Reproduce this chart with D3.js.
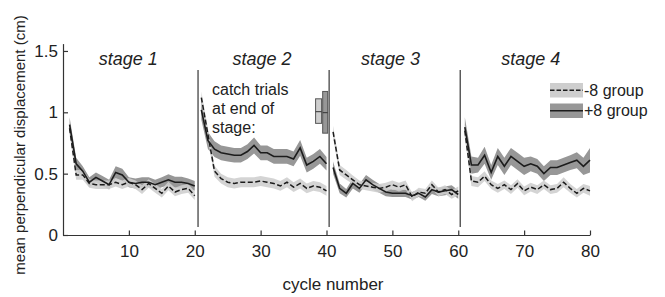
<!DOCTYPE html>
<html>
<head>
<meta charset="utf-8">
<script src="https://cdn.jsdelivr.net/npm/d3@7/dist/d3.min.js"></script>
<style>
  body { margin: 0; background: #fff; }
  svg { display: block; }
  text { font-family: "Liberation Sans", Arial, Helvetica, sans-serif; fill: #222; }
</style>
</head>
<body>
<div id="chart"></div>
<script>
// data: cycles 1..80, four stages of 20 cycles
const cycles = d3.range(1, 81);
const stageNames = ['stage 1', 'stage 2', 'stage 3', 'stage 4'];
const stageBreaks = [20.5, 40.4, 60.3];

// +8 group (solid line, dark band)
const plusMean = [
  0.90, 0.58, 0.52, 0.43, 0.47, 0.44, 0.41, 0.51, 0.49, 0.43, 0.42, 0.43, 0.43, 0.41, 0.43, 0.45, 0.43, 0.43, 0.42, 0.40,
  1.02, 0.77, 0.70, 0.67, 0.66, 0.65, 0.65, 0.68, 0.73, 0.67, 0.67, 0.64, 0.64, 0.64, 0.62, 0.71, 0.57, 0.60, 0.64, 0.58,
  0.55, 0.38, 0.34, 0.42, 0.38, 0.45, 0.41, 0.38, 0.35, 0.34, 0.34, 0.34, 0.32, 0.34, 0.31, 0.37, 0.35, 0.36, 0.37, 0.33,
  0.88, 0.57, 0.57, 0.65, 0.51, 0.64, 0.56, 0.64, 0.60, 0.56, 0.58, 0.56, 0.50, 0.55, 0.55, 0.57, 0.59, 0.61, 0.56, 0.61
];
const plusSem = [
  0.06, 0.05, 0.04, 0.04, 0.04, 0.04, 0.04, 0.05, 0.05, 0.04, 0.04, 0.04, 0.04, 0.04, 0.04, 0.045, 0.045, 0.045, 0.04, 0.04,
  0.08, 0.07, 0.065, 0.06, 0.06, 0.06, 0.06, 0.06, 0.065, 0.06, 0.06, 0.06, 0.06, 0.06, 0.06, 0.065, 0.06, 0.06, 0.06, 0.055,
  0.05, 0.04, 0.035, 0.04, 0.035, 0.04, 0.04, 0.035, 0.035, 0.03, 0.03, 0.03, 0.03, 0.03, 0.03, 0.035, 0.035, 0.035, 0.035, 0.035,
  0.08, 0.07, 0.06, 0.07, 0.06, 0.07, 0.07, 0.07, 0.07, 0.07, 0.06, 0.06, 0.06, 0.06, 0.06, 0.06, 0.06, 0.065, 0.07, 0.10
];

// -8 group (dashed line, light band)
const minusMean = [
  0.87, 0.49, 0.49, 0.42, 0.41, 0.41, 0.41, 0.43, 0.41, 0.43, 0.41, 0.37, 0.42, 0.38, 0.34, 0.40, 0.35, 0.37, 0.38, 0.32,
  1.12, 0.82, 0.52, 0.46, 0.43, 0.42, 0.43, 0.43, 0.43, 0.44, 0.43, 0.42, 0.40, 0.43, 0.39, 0.42, 0.38, 0.40, 0.39, 0.36,
  0.84, 0.53, 0.49, 0.45, 0.41, 0.40, 0.39, 0.38, 0.39, 0.41, 0.39, 0.41, 0.31, 0.35, 0.34, 0.41, 0.35, 0.37, 0.33, 0.36,
  0.85, 0.44, 0.43, 0.48, 0.41, 0.38, 0.41, 0.37, 0.42, 0.36, 0.39, 0.37, 0.41, 0.37, 0.38, 0.43, 0.38, 0.34, 0.38, 0.36
];
const minusSem = [
  0.05, 0.04, 0.04, 0.035, 0.035, 0.035, 0.035, 0.035, 0.035, 0.035, 0.035, 0.035, 0.035, 0.035, 0.035, 0.035, 0.035, 0.035, 0.035, 0.035,
  0.05, 0.05, 0.045, 0.04, 0.04, 0.04, 0.04, 0.04, 0.04, 0.04, 0.04, 0.04, 0.04, 0.04, 0.04, 0.04, 0.04, 0.04, 0.04, 0.04,
  0.05, 0.04, 0.04, 0.035, 0.035, 0.035, 0.035, 0.035, 0.035, 0.035, 0.035, 0.035, 0.035, 0.035, 0.035, 0.035, 0.035, 0.035, 0.035, 0.035,
  0.06, 0.04, 0.04, 0.04, 0.035, 0.035, 0.035, 0.035, 0.035, 0.035, 0.035, 0.035, 0.035, 0.035, 0.035, 0.04, 0.035, 0.035, 0.035, 0.04
];

// catch trial boxes at end of stage 2: [mean, low, high]
const catchMinus = [1.005, 0.91, 1.11];
const catchPlus = [0.997, 0.83, 1.17];

const xTicks = [10, 20, 30, 40, 50, 60, 70, 80];
const yTicks = [0, 0.5, 1, 1.5];

const width = 665;
const height = 297;
const colors = { dark: '#979797', light: '#cecece', ink: '#1c1c1c', axis: '#333' };

const x = d3.scaleLinear().domain([0, 80]).range([63, 590]);
const y = d3.scaleLinear().domain([0, 1.56]).range([235, 43.6]);

const svg = d3.select('#chart')
  .append('svg')
  .attr('width', width)
  .attr('height', height);

const rows = (mean, sem) => cycles.map((c, i) => ({ c, m: mean[i], e: sem[i], stage: Math.floor(i / 20) }));
const plusRows = rows(plusMean, plusSem);
const minusRows = rows(minusMean, minusSem);

const area = d3.area()
  .x(d => x(d.c))
  .y0(d => y(d.m - d.e))
  .y1(d => y(d.m + d.e));
const line = d3.line()
  .x(d => x(d.c))
  .y(d => y(d.m));

const byStage = data => d3.groups(data, d => d.stage).map(g => g[1]);

// bands
svg.append('g').selectAll('path')
  .data(byStage(plusRows))
  .join('path')
  .attr('d', area)
  .attr('fill', colors.dark);
svg.append('g').selectAll('path')
  .data(byStage(minusRows))
  .join('path')
  .attr('d', area)
  .attr('fill', colors.light)
  .attr('opacity', 0.88);

// mean lines
svg.append('g').selectAll('path')
  .data(byStage(minusRows))
  .join('path')
  .attr('d', line)
  .attr('fill', 'none')
  .attr('stroke', colors.ink)
  .attr('stroke-width', 1.5)
  .attr('stroke-dasharray', '5,2.5');
svg.append('g').selectAll('path')
  .data(byStage(plusRows))
  .join('path')
  .attr('d', line)
  .attr('fill', 'none')
  .attr('stroke', colors.ink)
  .attr('stroke-width', 1.6);

// stage separators
svg.append('g').selectAll('line')
  .data(stageBreaks)
  .join('line')
  .attr('x1', d => x(d))
  .attr('x2', d => x(d))
  .attr('y1', y(1.345))
  .attr('y2', y(0.065))
  .attr('stroke', '#444')
  .attr('stroke-width', 1.3);

// axes
const xAxis = svg.append('g')
  .attr('transform', `translate(0,${y(0)})`)
  .call(d3.axisBottom(x).tickValues(xTicks).tickSizeInner(-4.5).tickSizeOuter(0).tickPadding(10));
const yAxis = svg.append('g')
  .attr('transform', `translate(${x(0)},0)`)
  .call(d3.axisLeft(y).tickValues(yTicks).tickSizeInner(-5).tickSizeOuter(0).tickPadding(5)
    .tickFormat(d => String(d)));

[xAxis, yAxis].forEach(axis => {
  axis.attr('font-size', null).attr('font-family', null);
  axis.selectAll('path, line').attr('stroke', colors.axis).attr('stroke-width', 1.2);
  axis.selectAll('text').style('font-size', '17px').attr('fill', '#222');
});

svg.append('text')
  .attr('x', 333)
  .attr('y', 290)
  .attr('text-anchor', 'middle')
  .style('font-size', '17px')
  .text('cycle number');

svg.append('text')
  .attr('transform', 'translate(25,145) rotate(-90)')
  .attr('text-anchor', 'middle')
  .style('font-size', '15px')
  .text('mean perpendicular displacement (cm)');

// stage titles
const titleX = [9.9, 30.2, 49.7, 71];
svg.append('g').selectAll('text')
  .data(stageNames)
  .join('text')
  .attr('x', (d, i) => x(titleX[i]))
  .attr('y', 65)
  .attr('text-anchor', 'middle')
  .style('font-size', '18px')
  .style('font-style', 'italic')
  .text(d => d);

// catch trials note
const note = svg.append('text')
  .attr('x', 212)
  .attr('y', 95)
  .style('font-size', '16px');
['catch trials', 'at end of', 'stage:'].forEach((t, i) => {
  note.append('tspan').attr('x', 212).attr('dy', i ? 19 : 0).text(t);
});

const boxes = [
  { v: catchMinus, c: 38.8, w: 6, fill: colors.light },
  { v: catchPlus, c: 39.8, w: 5, fill: colors.dark }
];
const boxG = svg.append('g').selectAll('g').data(boxes).join('g');
boxG.append('rect')
  .attr('x', d => x(d.c) - d.w / 2)
  .attr('width', d => d.w)
  .attr('y', d => y(d.v[2]))
  .attr('height', d => y(d.v[1]) - y(d.v[2]))
  .attr('fill', d => d.fill)
  .attr('stroke', '#555')
  .attr('stroke-width', 1);
boxG.append('line')
  .attr('x1', d => x(d.c) - d.w / 2)
  .attr('x2', d => x(d.c) + d.w / 2)
  .attr('y1', d => y(d.v[0]))
  .attr('y2', d => y(d.v[0]))
  .attr('stroke', '#333')
  .attr('stroke-width', 1);

// legend
const legend = svg.append('g').attr('transform', 'translate(550,83)');
const legendItems = [
  { label: '-8 group', fill: colors.light, dash: '4.5,2' },
  { label: '+8 group', fill: colors.dark, dash: null }
];
const li = legend.selectAll('g').data(legendItems).join('g')
  .attr('transform', (d, i) => `translate(0,${i * 20.5})`);
li.append('rect').attr('width', 33).attr('height', 14.5).attr('fill', d => d.fill);
li.append('line')
  .attr('x1', 0).attr('x2', 33).attr('y1', 7.2).attr('y2', 7.2)
  .attr('stroke', colors.ink).attr('stroke-width', 1.5)
  .attr('stroke-dasharray', d => d.dash);
li.append('text')
  .attr('x', 34)
  .attr('y', 12.5)
  .style('font-size', '16px')
  .text(d => d.label);
</script>
</body>
</html>
